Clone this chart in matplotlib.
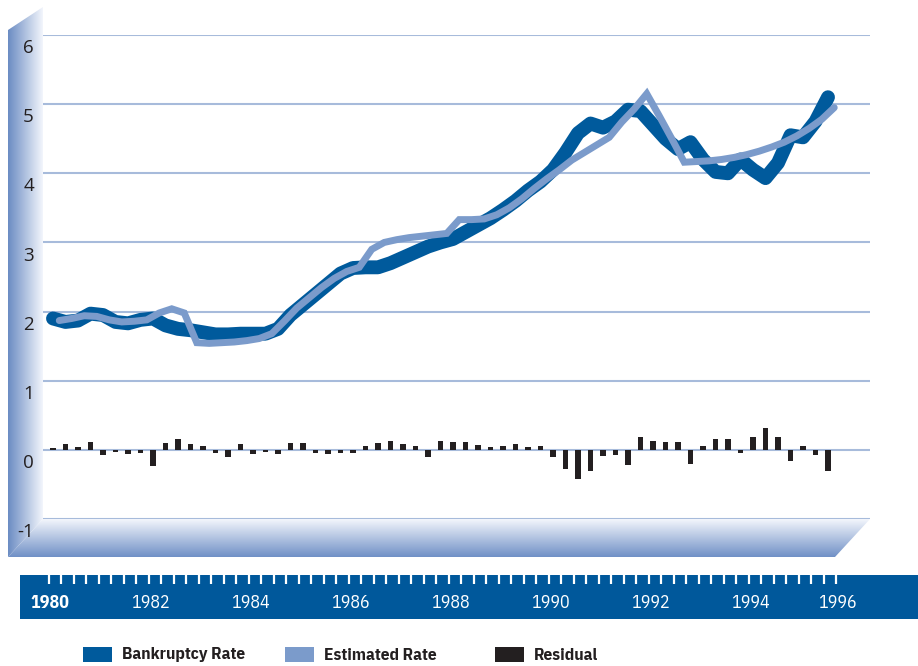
import numpy as np
import matplotlib
matplotlib.use("Agg")
import matplotlib.pyplot as plt
from matplotlib.patches import Polygon, Rectangle
from matplotlib.colors import LinearSegmentedColormap
from matplotlib.transforms import blended_transform_factory

# quarterly data, 1980Q1 .. 1995Q3
start_year = 1980
bankruptcy = [1.90, 1.85, 1.87, 1.97, 1.95, 1.85, 1.83, 1.88, 1.90, 1.80,
              1.75, 1.73, 1.70, 1.67, 1.67, 1.68, 1.68, 1.68, 1.75, 1.95,
              2.10, 2.25, 2.40, 2.55, 2.63, 2.64, 2.64, 2.70, 2.78, 2.86,
              2.94, 3.00, 3.05, 3.15, 3.25, 3.35, 3.47, 3.60, 3.75, 3.88,
              4.05, 4.30, 4.58, 4.72, 4.66, 4.75, 4.92, 4.90, 4.70, 4.50,
              4.35, 4.45, 4.20, 4.02, 4.00, 4.20, 4.05, 3.93, 4.15, 4.55,
              4.52, 4.75, 5.10]
estimated = [1.87, 1.90, 1.94, 1.93, 1.88, 1.85, 1.86, 1.88, 1.98, 2.04,
             1.98, 1.55, 1.54, 1.55, 1.56, 1.58, 1.61, 1.68, 1.86, 2.05,
             2.20, 2.35, 2.48, 2.58, 2.64, 2.90, 3.00, 3.04, 3.07, 3.09,
             3.11, 3.13, 3.33, 3.33, 3.34, 3.40, 3.50, 3.63, 3.78, 3.92,
             4.05, 4.19, 4.30, 4.41, 4.52, 4.74, 4.93, 5.15, 4.83, 4.50,
             4.16, 4.17, 4.18, 4.20, 4.23, 4.27, 4.32, 4.38, 4.45, 4.54,
             4.65, 4.78, 4.95]
residual = [0.02, 0.09, 0.04, 0.11, -0.07, -0.03, -0.06, -0.05, -0.23, 0.10,
            0.15, 0.08, 0.06, -0.05, -0.10, 0.08, -0.06, -0.03, -0.06, 0.10,
            0.10, -0.05, -0.06, -0.04, -0.04, 0.05, 0.10, 0.13, 0.08, 0.05,
            -0.11, 0.13, 0.12, 0.12, 0.07, 0.04, 0.06, 0.08, 0.04, 0.05,
            -0.11, -0.27, -0.42, -0.30, -0.09, -0.08, -0.22, 0.18, 0.13, 0.11,
            0.12, -0.21, 0.05, 0.16, 0.15, -0.05, 0.18, 0.32, 0.19, -0.16,
            0.06, -0.07, -0.31]
y_ticks = [-1, 0, 1, 2, 3, 4, 5, 6]
x_tick_pos = [1980, 1982, 1984, 1986, 1988, 1990, 1992, 1994, 1995.75]
x_tick_labels = ["1980", "1982", "1984", "1986", "1988", "1990", "1992", "1994", "1996"]
legend_labels = ["Bankruptcy Rate", "Estimated Rate", "Residual"]

DARK = "#005a9c"
LIGHT = "#7b9bcb"
BLACK = "#231f20"
GRID = "#a7bbdb"
BAND = "#00589b"
NARROW = ["IBM Plex Sans Condensed", "Open Sans", "DejaVu Sans"]
HUMAN = ["Open Sans", "DejaVu Sans"]

t = start_year + np.arange(len(bankruptcy)) / 4.0
t_est = t + 0.125
quarters = start_year + np.arange(64) / 4.0

W, H = 918, 666
fig = plt.figure(figsize=(W / 100, H / 100), dpi=100)

# pixel -> year for the x placement
def px_year(x):
    return start_year + (x - 53) / 50.0

# background layer in pixel coords (wall, floor, legend)
bg = fig.add_axes([0, 0, 1, 1])
bg.set_xlim(0, W)
bg.set_ylim(H, 0)
bg.axis("off")

def gradient(verts, extent, horizontal, c0, c1):
    poly = Polygon(verts, closed=True, fc="none", ec="none")
    bg.add_patch(poly)
    g = np.linspace(0, 1, 256)
    arr = g[None, :] if horizontal else g[:, None]
    cmap = LinearSegmentedColormap.from_list("g", [c0, c1])
    im = bg.imshow(arr, extent=extent, cmap=cmap, aspect="auto", origin="upper")
    im.set_clip_path(poly)

# left wall and floor
gradient([(8, 30), (43, 7), (43, 519), (8, 557)], (8, 43, 557, 7), True, "#6b8cc3", "#f3f6fc")
gradient([(43, 519), (870, 519), (835, 557), (8, 557)], (8, 870, 557, 519), False, "#f3f6fc", "#7090c6")
bg.set_xlim(0, W)
bg.set_ylim(H, 0)

# legend
for i, (lab, col) in enumerate(zip(legend_labels, [DARK, LIGHT, BLACK])):
    x0 = [83, 285, 495][i]
    bg.add_patch(Rectangle((x0, 647), 29, 15, fc=col, ec="none"))
    bg.text(x0 + 39, 655, lab, fontsize=12.5, fontweight="bold", family=NARROW,
            color=BLACK, va="center", ha="left")

# main plot
ax = fig.add_axes([40 / W, 1 - 519 / H, 830 / W, 484 / H])
ax.patch.set_alpha(0)
ax.set_xlim(px_year(40), px_year(870))
ax.set_ylim(-1, 6)
ax.axis("off")
ax.hlines(y_ticks, px_year(43), px_year(870), color=GRID, lw=1.5, zorder=1)

ax.bar(t, residual, width=0.11, color=BLACK, zorder=2)
ax.plot(t, bankruptcy, color=DARK, lw=10, solid_capstyle="round",
        solid_joinstyle="round", zorder=3, clip_on=False)
ax.plot(t_est, estimated, color=LIGHT, lw=5, solid_capstyle="round",
        solid_joinstyle="miter", zorder=4, clip_on=False)

tr = blended_transform_factory(bg.transData, ax.transData)
for v in y_ticks:
    ax.text(34, v - 0.19, str(v), transform=tr, ha="right", va="center",
            fontsize=13.5, family=HUMAN, color=BLACK)

# x axis band
band = fig.add_axes([20 / W, 1 - 619 / H, 898 / W, 44 / H])
band.set_facecolor(BAND)
band.set_xlim(px_year(20), px_year(918))
band.set_ylim(0, 1)
for s in band.spines.values():
    s.set_visible(False)
band.set_xticks([])
band.set_yticks([])
band.vlines(quarters - 0.09, 0.8, 1.0, color="white", lw=1.6)
for pos, lab in zip(x_tick_pos, x_tick_labels):
    band.text(pos - 0.06, 0.37, lab, ha="center", va="center", color="white",
              fontsize=13, family=NARROW,
              fontweight="bold" if lab == "1980" else "normal")

fig.savefig("out.png", dpi=100)
